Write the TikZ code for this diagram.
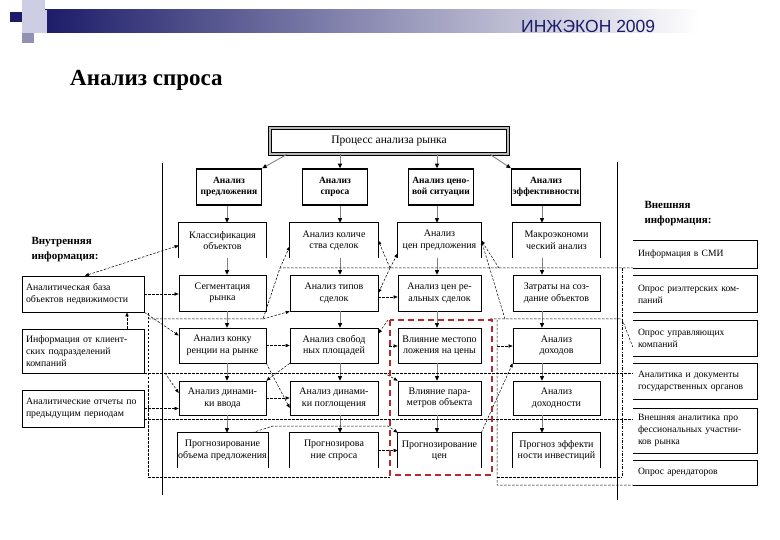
\documentclass[tikz,border=0pt]{standalone}
\usepackage{fontspec}
\setmainfont{Liberation Serif}
\newfontfamily\hdrfont{Liberation Sans}
\usetikzlibrary{arrows.meta}
\definecolor{hdrnavy}{RGB}{28,28,105}
\definecolor{hdrmid}{RGB}{150,150,182}
\definecolor{hdrlav}{RGB}{205,205,228}
\definecolor{hdrgray}{RGB}{145,145,180}
\definecolor{redline}{RGB}{185,40,45}

\begin{document}
\begin{tikzpicture}[x=1pt,y=-1pt,
  cell/.style={draw, line width=0.6pt, minimum width=87pt, minimum height=35pt, inner sep=1pt, align=center, font=\fontsize{10}{11.5}\selectfont},
  ucell/.style={cell, draw=none},
  head/.style={cell, line width=1.5pt, minimum width=65pt, minimum height=36pt, font=\bfseries\fontsize{9.5}{11.5}\selectfont},
  src/.style={draw, line width=0.6pt, inner xsep=4pt, text width=114pt, align=left, font=\fontsize{9.8}{12}\selectfont},
  ext/.style={inner xsep=5pt, text width=114pt, align=left, font=\fontsize{9.6}{12}\selectfont},
  lbl/.style={anchor=west, align=left, font=\bfseries\fontsize{11}{15}\selectfont},
  flow/.style={draw=gray, line width=0.9pt, -{Triangle[length=4.5pt,width=4pt,color=black]}},
  dline/.style={line width=0.5pt, dash pattern=on 2.5pt off 1.5pt},
  ddot/.style={line width=0.5pt, dash pattern=on 3pt off 1.5pt on 0.6pt off 1.5pt},
  darr/.style={dline, -{Triangle[length=4pt,width=3.2pt]}},
  darrb/.style={dline, {Triangle[length=4pt,width=3.2pt]}-{Triangle[length=4pt,width=3.2pt]}}
]
\useasboundingbox (0,0) rectangle (780,540);

% header
\shade[left color=hdrnavy, middle color=hdrmid, right color=white] (45,10) rectangle (700,33);
\fill[white] (700,10) rectangle (780,33);
\fill[hdrlav] (22,0) rectangle (45,10);
\fill[hdrlav] (22,10) rectangle (47,33);
\fill[hdrnavy] (10,12) rectangle (22,22);
\fill[hdrgray] (22,33) rectangle (34,43);
\node[font=\hdrfont\fontsize{17.5}{17.5}\selectfont, text=hdrnavy, anchor=west, inner sep=0pt] (hdr) at (521,26) {ИНЖЭКОН 2009};
\node[font=\bfseries\fontsize{23}{23}\selectfont, anchor=base west, inner sep=0pt] (ttl) at (70,86) {Анализ спроса};

% frame
\draw[line width=0.7pt] (162,163) -- (162,495);
\draw[line width=0.7pt] (617,162) -- (617,500);

% process and sections
\node[draw, line width=0.6pt, double=gray!55, double distance=2pt, minimum width=238pt, minimum height=26pt, font=\fontsize{11.5}{13}\selectfont] (proc) at (389,141) {Процесс анализа рынка};
\node[head] (an1) at (229,187) {Анализ\\предложения};
\node[head] (an2) at (335,187) {Анализ\\спроса};
\node[head] (an3) at (441,187) {Анализ цено-\\вой ситуации};
\node[head] (an4) at (546,187) {Анализ\\эффективности};

% grid of steps
\node[ucell] (c1r1) at (222.5,240.5) {Классификация\\объектов};
\node[ucell, minimum width=88pt] (c2r1) at (334,240.5) {Анализ количе\\ства сделок};
\node[ucell, minimum width=83pt] (c3r1) at (439.5,240.5) {Анализ\\цен предложения};
\node[ucell] (c4r1) at (556.5,240.5) {Макроэкономи\\ческий анализ};
\node[cell, minimum height=36pt] (c1r2) at (222.5,293) {Сегментация\\рынка};
\node[cell, minimum width=88pt, minimum height=36pt] (c2r2) at (334,293) {Анализ типов\\сделок};
\node[cell, minimum width=83pt, minimum height=36pt] (c3r2) at (439.5,293) {Анализ цен ре-\\альных сделок};
\node[cell, minimum height=36pt] (c4r2) at (556.5,293) {Затраты на соз-\\дание объектов};
\node[cell] (c1r3) at (222.5,345.5) {Анализ конку\\ренции на рынке};
\node[cell, minimum width=88pt] (c2r3) at (334,345.5) {Анализ свобод\\ных площадей};
\node[cell, minimum width=83pt] (c3r3) at (439.5,345.5) {Влияние местопо\\ложения на цены};
\node[cell] (c4r3) at (556.5,345.5) {Анализ\\доходов};
\node[cell, minimum height=34pt] (c1r4) at (222.5,398) {Анализ динами-\\ки ввода};
\node[cell, minimum width=88pt, minimum height=34pt] (c2r4) at (334,398) {Анализ динами-\\ки поглощения};
\node[cell, minimum width=83pt, minimum height=34pt] (c3r4) at (439.5,398) {Влияние пара-\\метров объекта};
\node[cell, minimum height=34pt] (c4r4) at (556.5,398) {Анализ\\доходности};
\node[ucell] (c1r5) at (222.5,450.5) {Прогнозирование\\объема предложения};
\node[ucell, minimum width=88pt] (c2r5) at (334,450.5) {Прогнозирова\\ние спроса};
\node[ucell, minimum width=83pt] (c3r5) at (439.5,450.5) {Прогнозирование\\цен};
\node[ucell] (c4r5) at (556.5,450.5) {Прогноз эффекти\\ности инвестиций};
\foreach \n in {c1r1,c2r1,c3r1,c4r1,c1r5,c2r5,c3r5,c4r5}
  \draw[line width=0.6pt] (\n.south west) |- (\n.north east) -- (\n.south east);

% internal sources
\node[lbl] (inl) at (28,250) {Внутренняя\\информация:};
\node[src, minimum height=36pt] (ib1) at (83,294) {Аналитическая база\\объектов недвижимости};
\node[src, minimum height=44pt] (ib2) at (83,351) {Информация от клиент-\\ских подразделений\\компаний};
\node[src, minimum height=37pt] (ib3) at (83,408.5) {Аналитические отчеты по\\предыдущим периодам};

% external sources
\node[lbl] (exl) at (641,214) {Внешняя\\информация:};
\node[ext, minimum height=27pt] (eb1) at (695,254.5) {Информация в СМИ};
\node[ext, minimum height=36pt] (eb2) at (695,294) {Опрос риэлтерских ком-\\паний};
\node[ext, minimum height=35pt] (eb3) at (695,338.5) {Опрос управляющих\\компаний};
\node[ext, minimum height=35pt] (eb4) at (695,381.5) {Аналитика и документы\\государственных органов};
\node[ext, minimum height=45pt] (eb5) at (695,430.5) {Внешняя аналитика про\\фессиональных участни-\\ков рынка};
\node[ext, minimum height=25pt] (eb6) at (695,472.5) {Опрос арендаторов};
\foreach \n in {eb1,eb2,eb3,eb4,eb5,eb6}
  \draw[line width=0.6pt] (\n.north west) -| (\n.south east) -- (\n.south west);

% main flow
\coordinate (ax1) at (227,0);
\coordinate (ax2) at (340,0);
\coordinate (ax3) at (437,0);
\coordinate (ax4) at (542,0);
\draw[flow] ([xshift=-102]proc.south) -- (an1.north east);
\draw[flow] (proc.south -| ax2) -- (an2.north -| ax2);
\draw[flow] (proc.south -| ax3) -- (an3.north -| ax3);
\draw[flow] ([xshift=101]proc.south) -- (an4.north west);
\foreach \i in {1,...,4} {
  \draw[flow] (an\i.south -| ax\i) -- (c\i r1.north -| ax\i);
  \foreach \j/\k in {1/2,2/3,3/4,4/5}
    \draw[flow] (c\i r\j.south -| ax\i) -- (c\i r\k.north -| ax\i);
}

% information lines
\coordinate (k1) at (263,319);
\coordinate (k2) at (280,268);
\coordinate (j1) at (390,268);
\coordinate (j2) at (499,268);
\coordinate (j3) at (505,319);
\coordinate (j4) at (388,320);
\coordinate (j6) at (389,346);
\coordinate (j7) at (384,373);
\coordinate (j8) at (497,346);
\coordinate (lb1) at (148,313);
\coordinate (lb2) at (148,477);
\coordinate (lb3) at (165,373);
\coordinate (rb1) at (622,268);
\coordinate (rb2) at (622,477);
\coordinate (m1) at (273,426);
\coordinate (m2) at (388,426);
\coordinate (rk1) at (390,477);
\coordinate (rk2) at (497,477);
\coordinate (rk3) at (497,320);
\coordinate (rk4) at (497,485);
\coordinate (b2r) at (490,319);
\draw[dline] (k1 -| lb1) -- (k1) -- (k2) -- (k2 -| eb1.west);
\draw[dline] (b2r) -- (b2r -| rb1) -- ([yshift=-8.5]eb3.west);
\draw[dline] (ib2.south east) -- (ib2.south east -| eb4.west);
\draw[dline] ([yshift=-11]ib3.east) -- ([yshift=-11]ib3.east -| eb5.west);
\draw[dline] (lb2) -- (rk1);
\draw[dline] (rk2) -- (rb2);
\draw[dline] (rk3) -- (rk4) -- (eb6.south west);
\draw[dline] (lb1) -- (lb2);
\draw[ddot] (rb1) -- (rb2);

\draw[darrb] ([xshift=2]ib1.north) -- ([yshift=-5]c1r1.west);
\draw[darr] (ib1.east) -- (ib1.east -| c1r2.west);
\draw[darr] ([xshift=44]ib2.north) -- ([xshift=44]ib1.south);
\draw[darr] (ib1.south east) -- ([yshift=10]c1r3.west);
\draw[darr] (lb3) -- ([yshift=5]c1r4.west);
\draw[darr] (ib3.east) -- (ib3.east -| c1r4.west);
\draw[darr] (k2) -- ([yshift=-6]c2r1.west);
\draw[darr] (k1) -- (c2r2.south west);
\draw[darr] (c1r3.east) -- (c2r3.west);
\draw[darr] (c1r4.east) -- (c2r4.west);
\draw[darr] (c1r3.south east) -- ([yshift=-10]c2r4.west);
\draw[darr] (c2r3.south west) -- (c1r4.north east);
\draw[darr] (j1) -- (c2r1.east);
\draw[darr] (j1) -- (c2r2.east);
\draw[darr] (j1) -- ([yshift=-13]c3r1.west);
\draw[darr] ([yshift=-4]c2r2.east) -- ([yshift=-4]c3r2.west);
\draw[darr] (j2) -- (c3r1.east);
\draw[darr] (j3) -- (c3r1.east);
\draw[darr] (j4) -- ([yshift=12]c2r3.east);
\draw[darr] (j6) -- (j6 -| c3r3.west);
\draw[darr] (j7) -- (c3r4.north west);
\draw[darr] ([xshift=-16]c1r5.north east) -- (m1) -- (m2) -- (c3r5.north west);
\draw[darr] (c2r5.east) -- (c3r5.west);
\draw[darr] (c3r5.north east) -- (c4r3.south west);
\draw[darr] (j8) -- (j8 -| c4r3.west);

% price block
\draw[redline, line width=1.6pt, dash pattern=on 6pt off 4pt] (390,320) rectangle (492,475);
\end{tikzpicture}
\end{document}
